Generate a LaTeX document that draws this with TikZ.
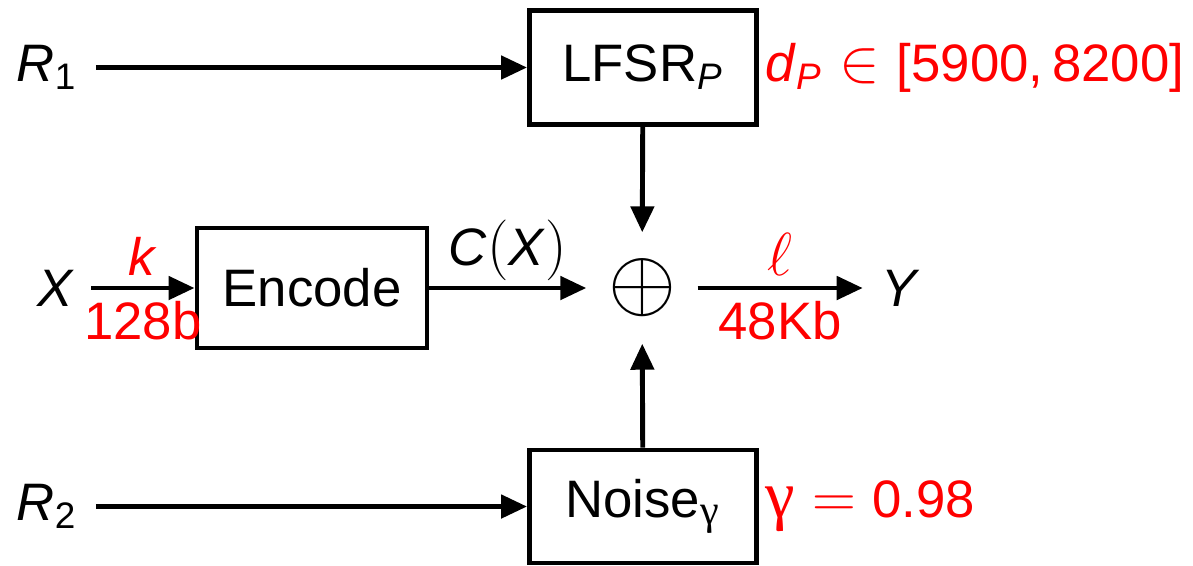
\documentclass[tikz,border=0pt]{standalone}
\usepackage{fontspec}
\setmainfont{Liberation Sans}
\newfontfamily\greekfont{Liberation Serif}
\usepackage{xcolor}
\usetikzlibrary{positioning, arrows.meta}
\tikzset{
  block/.style={
    draw, line width=1.4pt,
    minimum width=2.27cm, minimum height=1.14cm,
    font=\fontsize{15}{18}\selectfont
  },
  arrow/.style={-{Triangle[length=0.26cm, width=0.23cm]}, line width=1.4pt},
  sig/.style={inner xsep=0.18cm, inner ysep=0pt, font=\fontsize{15}{18}\selectfont\itshape},
  param/.style={text=red, inner sep=0.06cm, font=\fontsize{15}{18}\selectfont},
  bits/.style={text=red, inner sep=3pt, font=\fontsize{15}{18}\selectfont}
}
\newcommand{\bigmath}[1]{{\fontsize{18}{20}\selectfont$#1$}}

\begin{document}
\begin{tikzpicture}
\useasboundingbox (0,0) rectangle (11.93,-5.65);

%% Blocks
\node[block] (lfsr) at (6.43,-0.675) {LFSR\textsubscript{\textit{P}}};
\node[block, minimum width=2.30cm, minimum height=1.20cm] (enc) at (3.12,-2.88) {Encode};
\node[block, minimum height=1.13cm] (noise) at (6.43,-5.065) {Noise\textsubscript{\greekfont\fontsize{12}{14}\selectfont γ}};
\node[circle, minimum size=1.1cm, inner sep=0pt, font=\fontsize{23}{24}\selectfont] (xor) at (6.42,-2.88) {$\oplus$};

%% Inputs and output
\node[sig] (r1) at (0.47,-0.675) {R\textsubscript{\upshape 1}};
\node[sig] (x) at (0.55,-2.88) {X};
\node[sig] (r2) at (0.47,-5.065) {R\textsubscript{\upshape 2}};
\node[sig] (y) at (8.99,-2.88) {Y};

%% Connectors
\draw[arrow] (r1) -- (lfsr);
\draw[arrow] (x) -- node[bits, above]{\textit{k}} node[bits, below]{128b} (enc);
\draw[arrow] (enc) -- node[above, inner sep=1.5pt, font=\fontsize{15}{18}\selectfont]
  {\textit{C}\bigmath{(}\textit{X}\bigmath{)}} (xor);
\draw[arrow] (lfsr) -- (xor);
\draw[arrow] (noise) -- (xor);
\draw[arrow] (xor) -- node[bits, above]{\bigmath{\ell}} node[bits, below]{48Kb} (y);
\draw[arrow] (r2) -- (noise);

%% Parameters
\node[param, right=0pt of lfsr] (dp) {\textit{d}\textsubscript{\textit{P}}\bigmath{{}\in{}}[5900,\,8200]};
\node[param, right=0pt of noise] (gam) {{\greekfont\fontsize{19}{20}\selectfont γ}\bigmath{{}={}}0.98};
\end{tikzpicture}
\end{document}
